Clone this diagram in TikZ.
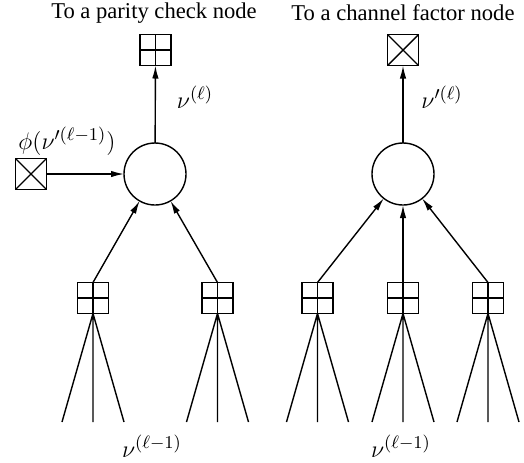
\documentclass[tikz,border=0pt]{standalone}
\usepackage{fontspec}
\setmainfont{Liberation Serif}
\usetikzlibrary{arrows.meta}
\begin{document}
\begin{tikzpicture}[x=0.5pt,y=-0.5pt,
  line width=0.7pt,
  pbox/.style={draw, minimum size=15.5pt, inner sep=0pt, outer sep=0pt,
    path picture={\draw (path picture bounding box.north) -- (path picture bounding box.south)
      (path picture bounding box.west) -- (path picture bounding box.east);}},
  xbox/.style={draw, minimum size=15.5pt, inner sep=0pt, outer sep=0pt,
    path picture={\draw (path picture bounding box.north west) -- (path picture bounding box.south east)
      (path picture bounding box.south west) -- (path picture bounding box.north east);}},
  vnode/.style={draw, circle, minimum size=31pt, inner sep=0pt, outer sep=0pt},
  arr/.style={-{Latex[length=6.5pt,width=3.2pt]}},
  ttl/.style={font=\fontsize{11.3}{13}\selectfont, inner sep=0pt},
  lbl/.style={font=\fontsize{12.2}{14}\selectfont, inner sep=0pt}
]
\useasboundingbox (0,0) rectangle (524,462);
% ---- left part
\node[ttl] (t1) at (154,13) {To a parity check node};
\node[pbox] (top1) at (155.5,50) {};
\node[vnode] (c1) at (155,174) {};
\node[xbox] (in1) at (31,174) {};
\node[lbl] (phi) at (67,141) {$\phi(\nu'^{(\ell-1)})$};
\node[lbl] (nu1) at (195,97) {$\nu^{(\ell)}$};
\node[pbox] (b1) at (93,298) {};
\node[pbox] (b2) at (217.5,298) {};
\draw[arr] (c1) -- (top1);
\draw[arr] (in1) -- (c1);
\draw[arr] (b1.north) -- (c1);
\draw[arr] (b2.north) -- (c1);
\coordinate (l1a) at (62,422); \coordinate (l1b) at (93,422); \coordinate (l1c) at (124,422);
\coordinate (l2a) at (186.5,422); \coordinate (l2b) at (217.5,422); \coordinate (l2c) at (248.5,422);
\draw (b1.south) -- (l1a) (b1.south) -- (l1b) (b1.south) -- (l1c);
\draw (b2.south) -- (l2a) (b2.south) -- (l2b) (b2.south) -- (l2c);
\node[lbl] (bot1) at (152,446) {$\nu^{(\ell-1)}$};
% ---- right part
\node[ttl] (t2) at (403,13) {To a channel factor node};
\node[xbox] (top2) at (403,50) {};
\node[vnode] (c2) at (403,174) {};
\node[lbl] (nu2) at (442,97) {$\nu'^{(\ell)}$};
\node[pbox] (r1) at (317.5,298) {};
\node[pbox] (r2) at (403,298) {};
\node[pbox] (r3) at (488,298) {};
\draw[arr] (c2) -- (top2);
\draw[arr] (r1.north) -- (c2);
\draw[arr] (r2.north) -- (c2);
\draw[arr] (r3.north) -- (c2);
\coordinate (m1a) at (286.5,422); \coordinate (m1b) at (317.5,422); \coordinate (m1c) at (348.5,422);
\coordinate (m2a) at (372,422); \coordinate (m2b) at (403,422); \coordinate (m2c) at (434,422);
\coordinate (m3a) at (457,422); \coordinate (m3b) at (488,422); \coordinate (m3c) at (519,422);
\draw (r1.south) -- (m1a) (r1.south) -- (m1b) (r1.south) -- (m1c);
\draw (r2.south) -- (m2a) (r2.south) -- (m2b) (r2.south) -- (m2c);
\draw (r3.south) -- (m3a) (r3.south) -- (m3b) (r3.south) -- (m3c);
\node[lbl] (bot2) at (401,446) {$\nu^{(\ell-1)}$};
\end{tikzpicture}
\end{document}
